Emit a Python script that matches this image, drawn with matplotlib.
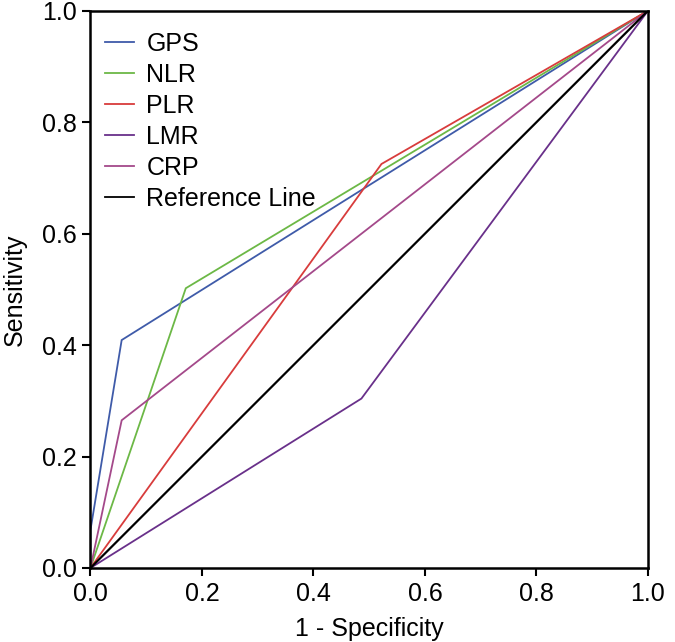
import matplotlib
matplotlib.use("Agg")
import matplotlib.pyplot as plt

plt.rcParams['font.family'] = ['Liberation Sans', 'DejaVu Sans']

names = ["GPS", "NLR", "PLR", "LMR", "CRP", "Reference Line"]
gps_x = [0.0, 0.0, 0.056, 1.0]
gps_y = [0.0, 0.068, 0.409, 1.0]
nlr_x = [0.0, 0.171, 1.0]
nlr_y = [0.0, 0.502, 1.0]
plr_x = [0.0, 0.522, 1.0]
plr_y = [0.0, 0.725, 1.0]
lmr_x = [0.0, 0.486, 1.0]
lmr_y = [0.0, 0.304, 1.0]
crp_x = [0.0, 0.056, 1.0]
crp_y = [0.0, 0.265, 1.0]
ref_x = [0.0, 1.0]
ref_y = [0.0, 1.0]
ticks = [0.0, 0.2, 0.4, 0.6, 0.8, 1.0]

colors = ["#3F5BA9", "#6CB846", "#D83C3C", "#69308A", "#A4498A", "#000000"]

fig = plt.figure(figsize=(6.75, 6.42), dpi=100)
ax = fig.add_axes([0.134, 0.1153, 0.826, 0.868])

series = [(gps_x, gps_y), (nlr_x, nlr_y), (plr_x, plr_y), (lmr_x, lmr_y), (crp_x, crp_y)]
for (xs, ys), n, c in zip(series, names[:5], colors[:5]):
    ax.plot(xs, ys, color=c, lw=1.3, label=n, solid_joinstyle='miter')
ax.plot(ref_x, ref_y, color=colors[5], lw=1.6, label=names[5])

ax.set_xlim(0, 1)
ax.set_ylim(0, 1)
ax.set_xticks(ticks)
ax.set_yticks(ticks)
ax.set_xticklabels([f"{t:.1f}" for t in ticks])
ax.set_yticklabels([f"{t:.1f}" for t in ticks])
ax.tick_params(direction='out', length=6, width=1.5, labelsize=18, pad=4)
for s in ax.spines.values():
    s.set_linewidth(1.8)
ax.set_xlabel("1 - Specificity", fontsize=18, labelpad=8)
ax.set_ylabel("Sensitivity", fontsize=18, labelpad=11)

leg = ax.legend(loc='upper left', frameon=False, fontsize=18, handlelength=1.15,
                handletextpad=0.5, labelspacing=0.28, borderaxespad=0.2,
                borderpad=0.3, bbox_to_anchor=(0.004, 0.985))
for l in leg.get_lines():
    l.set_linewidth(1.3)

fig.savefig("out.png", dpi=100)
